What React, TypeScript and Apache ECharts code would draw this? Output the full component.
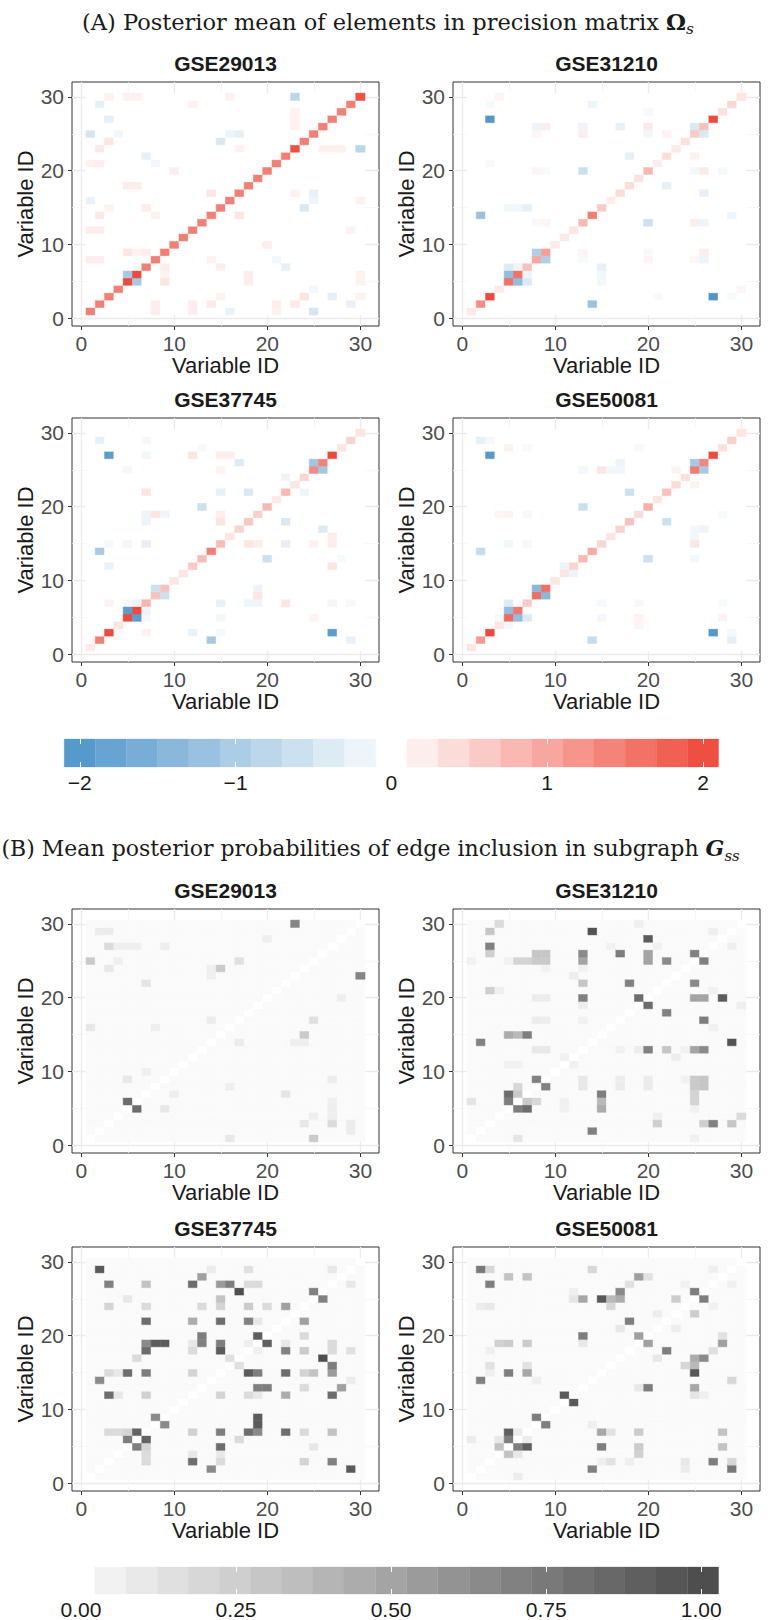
import React, { useEffect, useRef } from 'react';
import * as echarts from 'echarts';

// ---------------- data ----------------
const N_VARS = 30;
const AXIS_MIN = -1;
const AXIS_MAX = 32;
const MAJOR_TICKS = [0, 10, 20, 30];
const MINOR_TICKS = [5, 15, 25];
const DATASETS = ['GSE29013', 'GSE31210', 'GSE37745', 'GSE50081'];

// (A) posterior mean precision matrix: diagonal entries (variables 1..30)
const omegaDiag29013 = [1.45, 1.45, 1.45, 1.45, 2.05, 2.05, 1.45, 1.45, 1.45, 1.45, 1.45, 1.45, 1.45, 1.45, 1.45, 1.45, 1.45, 1.45, 1.45, 1.45, 1.45, 1.45, 2.0, 1.45, 1.45, 1.45, 1.45, 1.45, 1.45, 1.95];
const omegaDiag31210 = [0.25, 1.3, 2.05, 0.25, 1.6, 1.6, 0.7, 1.0, 1.1, 0.25, 0.25, 0.3, 0.8, 1.5, 0.6, 0.2, 0.4, 0.4, 0.35, 0.8, 0.2, 0.4, 0.25, 0.35, 0.6, 0.7, 2.05, 0.35, 0.45, 0.3];
const omegaDiag37745 = [0.25, 1.45, 2.05, 0.3, 2.05, 2.05, 0.85, 0.7, 0.7, 0.3, 0.3, 0.6, 0.75, 1.45, 0.75, 0.3, 0.5, 0.65, 0.55, 0.8, 0.25, 0.8, 0.3, 0.45, 1.3, 1.4, 2.05, 0.3, 0.5, 0.3];
const omegaDiag50081 = [0.3, 1.15, 2.05, 0.3, 1.7, 1.55, 0.6, 1.65, 1.65, 0.3, 0.3, 0.5, 0.8, 0.95, 0.45, 0.3, 0.5, 0.7, 0.4, 0.9, 0.3, 0.7, 0.4, 0.35, 1.5, 1.35, 2.05, 0.35, 0.55, 0.3];

// (A) off-diagonal entries [i, j, value] (i < j, matrix is symmetric)
const omegaOff29013 = [
  [5, 6, -1.05], [23, 30, -0.8], [1, 25, -0.5], [15, 24, -0.45], [1, 16, -0.25], [3, 27, -0.3], [7, 22, -0.3],
  [17, 25, -0.3], [2, 29, -0.3], [16, 25, -0.2], [4, 25, -0.15], [8, 21, -0.15],
  [3, 24, 0.3], [2, 23, 0.25], [14, 17, 0.3], [5, 9, 0.3], [3, 30, 0.15], [5, 30, 0.15], [6, 30, 0.15], [16, 30, 0.15],
  [1, 21, 0.15], [2, 21, 0.2], [5, 18, 0.2], [6, 18, 0.2], [17, 23, 0.15], [3, 15, 0.15], [7, 15, 0.2], [2, 14, 0.25],
  [8, 14, 0.15], [1, 12, 0.2], [2, 12, 0.2], [12, 29, 0.15], [10, 20, 0.2], [6, 9, 0.15], [7, 9, 0.2], [1, 8, 0.2],
  [2, 8, 0.2], [23, 26, 0.15], [23, 27, 0.15], [23, 28, 0.15],
];
const omegaOff31210 = [
  [3, 27, -2.05], [2, 14, -1.2], [5, 6, -1.3], [8, 9, -0.95], [13, 20, -0.6], [25, 26, -0.45], [5, 7, -0.4], [6, 7, -0.2],
  [7, 15, -0.3], [5, 15, -0.15], [6, 15, -0.15], [17, 26, -0.3], [18, 22, -0.3], [8, 26, -0.2], [9, 26, 0.2], [13, 26, -0.2],
  [13, 25, 0.2], [20, 26, 0.25], [20, 25, -0.15], [20, 28, -0.12], [14, 29, -0.2], [22, 25, 0.15], [3, 29, -0.1], [4, 30, 0.12],
  [3, 21, -0.1], [8, 20, 0.12], [9, 20, -0.1], [9, 13, 0.12], [8, 13, -0.1], [8, 25, 0.1],
];
const omegaOff37745 = [
  [3, 27, -1.95], [5, 6, -1.95], [2, 14, -1.05], [25, 26, -1.1], [8, 9, -0.6], [13, 20, -0.6], [2, 29, -0.3], [17, 26, -0.4],
  [18, 22, -0.45], [7, 22, 0.3], [12, 27, 0.3], [15, 27, 0.2], [16, 27, 0.2], [15, 19, 0.2], [15, 18, 0.3], [8, 19, 0.3],
  [9, 19, -0.2], [7, 19, -0.2], [7, 18, -0.2], [15, 22, -0.3], [7, 15, -0.3], [3, 12, -0.25], [5, 15, -0.15], [3, 15, -0.12],
  [3, 7, 0.15], [7, 27, -0.15], [6, 7, -0.2], [5, 7, -0.12], [22, 24, -0.2], [13, 28, -0.1], [7, 29, -0.12], [15, 25, 0.15],
  [5, 25, 0.12],
];
const omegaOff50081 = [
  [3, 27, -2.0], [5, 6, -1.3], [8, 9, -1.4], [25, 26, -1.05], [2, 14, -0.7], [13, 20, -0.6], [18, 22, -0.6], [5, 7, -0.4],
  [2, 29, -0.3], [15, 25, 0.3], [17, 26, -0.2], [16, 25, -0.15], [17, 25, -0.15], [13, 25, -0.15], [5, 15, -0.15], [7, 15, -0.12],
  [5, 28, 0.15], [5, 19, 0.15], [4, 19, 0.12], [7, 19, -0.12], [11, 12, -0.2], [3, 29, -0.12], [7, 28, -0.1], [23, 25, 0.15],
  [4, 5, -0.12], [19, 28, -0.1],
];

// (B) posterior probabilities of edge inclusion: background level and edges [i, j, p] (i < j, symmetric)
const PROB_BACKGROUND = 0.018;
const PROB_DIAGONAL = 0;
const probEdges29013 = [
  [23, 30, 0.68], [5, 6, 0.82], [1, 25, 0.28], [15, 24, 0.28], [3, 27, 0.18], [17, 25, 0.15], [7, 22, 0.12], [1, 16, 0.1],
  [5, 9, 0.1], [3, 24, 0.1], [2, 29, 0.08], [3, 29, 0.08], [14, 17, 0.08], [8, 16, 0.06], [7, 10, 0.06], [20, 28, 0.06],
  [4, 27, 0.06], [5, 27, 0.06], [6, 27, 0.06], [9, 27, 0.07], [14, 23, 0.06], [14, 24, 0.06], [4, 25, 0.06],
];
const probEdges31210 = [
  [4, 30, 0.18], [3, 29, 0.3], [14, 29, 0.97], [20, 28, 0.92], [3, 27, 0.7], [3, 26, 0.25], [8, 26, 0.3], [9, 26, 0.3],
  [13, 26, 0.65], [17, 26, 0.72], [20, 26, 0.5], [25, 26, 0.7], [6, 25, 0.22], [7, 25, 0.22], [8, 25, 0.28], [9, 25, 0.28],
  [13, 25, 0.5], [20, 25, 0.5], [22, 25, 0.65], [13, 22, 0.3], [18, 22, 0.7], [3, 21, 0.25], [13, 20, 0.7], [19, 20, 0.82],
  [8, 20, 0.08], [9, 20, 0.08], [2, 14, 0.7], [5, 15, 0.45], [6, 15, 0.38], [7, 15, 0.72], [8, 9, 0.7], [5, 7, 0.82],
  [6, 7, 0.28], [5, 6, 0.72], [6, 8, 0.2], [1, 6, 0.12], [12, 23, 0.07], [13, 17, 0.05], [8, 17, 0.08], [9, 17, 0.07],
  [8, 13, 0.1], [9, 13, 0.1], [13, 19, 0.07], [21, 27, 0.05], [27, 29, 0.06], [19, 30, 0.06], [16, 27, 0.05], [4, 21, 0.06],
  [5, 11, 0.05], [6, 11, 0.05], [11, 12, 0.05], [1, 25, 0.05], [5, 25, 0.05], [13, 24, 0.05], [9, 24, 0.05],
];
const probEdges37745 = [
  [2, 29, 0.93], [14, 29, 0.08], [18, 29, 0.15], [27, 29, 0.1], [13, 28, 0.52], [3, 27, 0.7], [7, 27, 0.32], [12, 27, 0.82],
  [15, 27, 0.55], [16, 27, 0.72], [18, 27, 0.18], [19, 27, 0.18], [17, 26, 1.0], [25, 26, 0.7], [5, 25, 0.1], [15, 25, 0.32],
  [3, 24, 0.22], [7, 24, 0.18], [13, 24, 0.18], [15, 24, 0.22], [18, 24, 0.27], [20, 24, 0.18], [22, 24, 0.52], [7, 22, 0.82],
  [12, 22, 0.45], [15, 22, 0.82], [18, 22, 0.7], [19, 22, 0.1], [13, 20, 0.72], [19, 20, 0.9], [7, 19, 0.65], [8, 19, 0.92],
  [9, 19, 0.92], [12, 19, 0.1], [13, 19, 0.7], [15, 19, 0.72], [18, 19, 0.06], [7, 18, 0.82], [12, 18, 0.18], [15, 18, 0.92],
  [6, 17, 0.18], [16, 17, 0.15], [3, 15, 0.18], [4, 15, 0.1], [5, 15, 0.82], [7, 15, 0.72], [12, 15, 0.22], [2, 14, 0.65],
  [3, 12, 0.82], [4, 12, 0.1], [7, 12, 0.24], [8, 9, 0.65], [3, 7, 0.18], [4, 7, 0.18], [5, 7, 0.22], [6, 7, 0.88], [5, 6, 0.72],
];
const probEdges50081 = [
  [2, 29, 0.75], [3, 29, 0.2], [14, 29, 0.2], [27, 29, 0.06], [5, 28, 0.32], [7, 28, 0.32], [19, 28, 0.52], [20, 28, 0.14],
  [3, 27, 0.72], [18, 27, 0.15], [17, 26, 0.65], [25, 26, 0.72], [12, 25, 0.12], [13, 25, 0.48], [15, 25, 0.95], [16, 25, 0.38],
  [17, 25, 0.45], [23, 25, 0.26], [2, 24, 0.08], [3, 24, 0.1], [16, 24, 0.2], [21, 23, 0.07], [18, 22, 0.72], [17, 21, 0.1],
  [13, 20, 0.72], [19, 20, 0.52], [4, 19, 0.24], [5, 19, 0.27], [7, 19, 0.27], [3, 16, 0.14], [7, 16, 0.14], [5, 15, 0.72],
  [7, 15, 0.48], [2, 14, 0.7], [8, 14, 0.06], [13, 19, 0.1], [11, 12, 0.93], [8, 9, 0.72], [5, 7, 0.9], [6, 7, 0.08],
  [1, 6, 0.08], [4, 6, 0.1], [5, 6, 0.72], [4, 5, 0.32], [12, 26, 0.06], [24, 27, 0.05], [3, 15, 0.06], [3, 18, 0.06],
];

// colour-bar bins [from, to, level]
const cbarABins = [
  [-2.1, -1.9, -2.0], [-1.9, -1.7, -1.8], [-1.7, -1.5, -1.6], [-1.5, -1.3, -1.4], [-1.3, -1.1, -1.2],
  [-1.1, -0.9, -1.0], [-0.9, -0.7, -0.8], [-0.7, -0.5, -0.6], [-0.5, -0.3, -0.4], [-0.3, -0.1, -0.2],
  [0.1, 0.3, 0.2], [0.3, 0.5, 0.4], [0.5, 0.7, 0.6], [0.7, 0.9, 0.8], [0.9, 1.1, 1.0],
  [1.1, 1.3, 1.2], [1.3, 1.5, 1.4], [1.5, 1.7, 1.6], [1.7, 1.9, 1.8], [1.9, 2.1, 2.0],
];
const cbarALabels = [-2, -1, 0, 1, 2];
const cbarBBins = [
  [0.022, 0.072, 0.047], [0.072, 0.123, 0.097], [0.123, 0.173, 0.148], [0.173, 0.223, 0.198], [0.223, 0.274, 0.248],
  [0.274, 0.324, 0.299], [0.324, 0.374, 0.349], [0.374, 0.424, 0.399], [0.424, 0.475, 0.45], [0.475, 0.525, 0.5],
  [0.525, 0.575, 0.55], [0.575, 0.626, 0.601], [0.626, 0.676, 0.651], [0.676, 0.726, 0.701], [0.726, 0.777, 0.751],
  [0.777, 0.827, 0.802], [0.827, 0.877, 0.852], [0.877, 0.927, 0.902], [0.927, 0.978, 0.953], [0.978, 1.028, 1.003],
];
const cbarBLabels = [0, 0.25, 0.5, 0.75, 1];

// ---------------- build ----------------
function buildOmega(diag: number[], off: number[][]) {
  const m: number[][] = [];
  for (let i = 0; i < N_VARS; i++) { m.push(new Array(N_VARS).fill(0)); }
  for (let i = 0; i < N_VARS; i++) m[i][i] = diag[i];
  off.forEach(([a, b, v]) => { m[a - 1][b - 1] = v; m[b - 1][a - 1] = v; });
  const out: number[][] = [];
  for (let i = 0; i < N_VARS; i++) for (let j = 0; j < N_VARS; j++) out.push([i + 1, j + 1, m[i][j]]);
  return out;
}
function buildProb(edges: number[][]) {
  const m: number[][] = [];
  for (let i = 0; i < N_VARS; i++) { m.push(new Array(N_VARS).fill(PROB_BACKGROUND)); }
  for (let i = 0; i < N_VARS; i++) m[i][i] = PROB_DIAGONAL;
  edges.forEach(([a, b, v]) => { m[a - 1][b - 1] = v; m[b - 1][a - 1] = v; });
  const out: number[][] = [];
  for (let i = 0; i < N_VARS; i++) for (let j = 0; j < N_VARS; j++) out.push([i + 1, j + 1, m[i][j]]);
  return out;
}

// grey ramp: white at 0, light grey at 0.05, then linear to dark grey at 1
function greyRamp() {
  const cols = ['#FFFFFF'];
  for (let k = 1; k <= 20; k++) {
    const g = Math.round(241 - (241 - 78) * (k - 1) / 19);
    const h = g.toString(16).padStart(2, '0');
    cols.push('#' + h + h + h);
  }
  return cols;
}

const SANS = '"Liberation Sans", Arial, Helvetica, sans-serif';
const SERIF = '"DejaVu Serif", "Liberation Serif", serif';
const PANEL_LEFTS = [72, 453];
const PANEL_W = 307;
const PANEL_H = 244;
const ROW_TOPS = [82, 418, 909, 1247];

function buildOption() {
  const matricesA = [
    buildOmega(omegaDiag29013, omegaOff29013), buildOmega(omegaDiag31210, omegaOff31210),
    buildOmega(omegaDiag37745, omegaOff37745), buildOmega(omegaDiag50081, omegaOff50081),
  ];
  const matricesB = [buildProb(probEdges29013), buildProb(probEdges31210), buildProb(probEdges37745), buildProb(probEdges50081)];

  const grids: any[] = [];
  const xAxes: any[] = [];
  const yAxes: any[] = [];
  const series: any[] = [];
  const graphics: any[] = [];

  const tileRender = (_p: any, api: any) => {
    const x = api.value(0);
    const y = api.value(1);
    const a = api.coord([x - 0.5, y + 0.5]);
    const b = api.coord([x + 0.5, y - 0.5]);
    const fill = api.visual('color');
    return {
      type: 'rect',
      shape: { x: a[0], y: a[1], width: b[0] - a[0], height: b[1] - a[1] },
      style: { fill, stroke: fill, lineWidth: 0.5 },
    };
  };
  const barRender = (_p: any, api: any) => {
    const a = api.coord([api.value(0), 1]);
    const b = api.coord([api.value(1), 0]);
    const fill = api.visual('color');
    return {
      type: 'rect',
      shape: { x: a[0], y: a[1], width: b[0] - a[0], height: b[1] - a[1] },
      style: { fill, stroke: fill, lineWidth: 0.3 },
    };
  };

  const mainAxis = (dim: 'x' | 'y', k: number) => ({
    type: 'value', gridIndex: k, min: AXIS_MIN, max: AXIS_MAX,
    position: dim === 'x' ? 'bottom' : 'left',
    axisLine: { show: false, onZero: false },
    axisTick: { show: true, length: 4, lineStyle: { color: '#333333', width: 1 }, customValues: MAJOR_TICKS },
    axisLabel: { show: true, customValues: MAJOR_TICKS, color: '#4D4D4D', fontSize: 21, fontFamily: SANS, margin: dim === 'x' ? 7 : 8 },
    splitLine: { show: true, lineStyle: { color: '#EBEBEB', width: 1.3 } },
    name: 'Variable ID', nameLocation: 'middle', nameGap: dim === 'x' ? 28 : 36, nameRotate: dim === 'x' ? 0 : 90,
    nameTextStyle: { fontSize: 22, color: '#1A1A1A', fontFamily: SANS },
  });
  const minorAxis = (dim: 'x' | 'y', k: number) => ({
    type: 'value', gridIndex: k, min: AXIS_MIN, max: AXIS_MAX,
    position: dim === 'x' ? 'bottom' : 'left',
    axisLine: { show: false, onZero: false },
    axisTick: { show: false, customValues: MINOR_TICKS },
    axisLabel: { show: false, customValues: MINOR_TICKS },
    splitLine: { show: true, lineStyle: { color: '#F5F5F5', width: 0.8 } },
  });

  const allMats = [...matricesA, ...matricesB];
  allMats.forEach((data, k) => {
    const col = k % 2;
    const row = Math.floor(k / 2);
    const left = PANEL_LEFTS[col];
    const top = ROW_TOPS[row];
    grids.push({ left, top, width: PANEL_W, height: PANEL_H, show: true, borderColor: '#333333', borderWidth: 1, backgroundColor: 'rgba(0,0,0,0)', containLabel: false, outerBoundsMode: 'none' });
    xAxes.push(mainAxis('x', k), minorAxis('x', k));
    yAxes.push(mainAxis('y', k), minorAxis('y', k));
    series.push({ type: 'custom', xAxisIndex: 2 * k, yAxisIndex: 2 * k, data, renderItem: tileRender, encode: { x: 0, y: 1 }, silent: true, z: 2 });
    graphics.push({
      type: 'text', x: left + PANEL_W / 2, y: top - 18.5,
      style: { text: DATASETS[k % 4], font: `bold 21px ${SANS}`, fill: '#1A1A1A', align: 'center', verticalAlign: 'middle', textAlign: 'center', textVerticalAlign: 'middle' },
    });
  });

  // colour bars
  const cbars = [
    { left: 64.2, top: 739, width: 654.4, height: 28, min: -2.1, max: 2.1, bins: cbarABins, labels: cbarALabels, marks: [-2, -1, 1, 2], fmt: (v: number) => (v < 0 ? '\u2212' + Math.abs(v) : String(v)) },
    { left: 81, top: 1567, width: 637.6, height: 27, min: 0, max: 1.028, bins: cbarBBins, labels: cbarBLabels, marks: [0.25, 0.5, 0.75, 1], fmt: (v: number) => v.toFixed(2) },
  ];
  cbars.forEach((c, ci) => {
    const gi = 8 + ci;
    grids.push({ left: c.left, top: c.top, width: c.width, height: c.height, show: false, containLabel: false, outerBoundsMode: 'none' });
    const xi = xAxes.length;
    xAxes.push({
      type: 'value', gridIndex: gi, min: c.min, max: c.max, position: 'bottom', z: 10,
      axisLine: { show: false, onZero: false },
      axisTick: { show: true, inside: true, length: 5, lineStyle: { color: '#FFFFFF', width: 1 }, customValues: c.marks },
      axisLabel: { show: true, customValues: c.labels, formatter: c.fmt, color: '#1A1A1A', fontSize: 21, fontFamily: SANS, margin: 5 },
      splitLine: { show: false },
    });
    xAxes.push({
      type: 'value', gridIndex: gi, min: c.min, max: c.max, position: 'top', z: 10,
      axisLine: { show: false, onZero: false },
      axisTick: { show: true, inside: true, length: 5, lineStyle: { color: '#FFFFFF', width: 1 }, customValues: c.marks },
      axisLabel: { show: false },
      splitLine: { show: false },
    });
    const yi = yAxes.length;
    yAxes.push({ type: 'value', gridIndex: gi, min: 0, max: 1, show: false, axisLine: { onZero: false } });
    series.push({ type: 'custom', xAxisIndex: xi, yAxisIndex: yi, data: c.bins, renderItem: barRender, encode: { x: [0, 1] }, silent: true, z: 2 });
  });

  // main titles
  graphics.push({
    type: 'text', x: 388, y: 22,
    style: {
      text: '{n|(A) Posterior mean of elements in precision matrix }{o|\u03A9}{s|s}',
      align: 'center', verticalAlign: 'middle', textAlign: 'center', textVerticalAlign: 'middle',
      rich: {
        n: { fontFamily: SERIF, fontSize: 22.5, fill: '#1A1A1A', lineHeight: 30 },
        o: { fontFamily: SERIF, fontSize: 22.5, fontWeight: 'bold', fill: '#1A1A1A', lineHeight: 30 },
        s: { fontFamily: SERIF, fontSize: 15.5, fontStyle: 'italic', fill: '#1A1A1A', lineHeight: 16, verticalAlign: 'bottom' },
      },
    },
  });
  graphics.push({
    type: 'text', x: 1.5, y: 848,
    style: {
      text: '{n|(B) Mean posterior probabilities of edge inclusion in subgraph }{g|G}{s|ss}',
      align: 'left', verticalAlign: 'middle', textAlign: 'left', textVerticalAlign: 'middle',
      rich: {
        n: { fontFamily: SERIF, fontSize: 22, fill: '#1A1A1A', lineHeight: 30 },
        g: { fontFamily: SERIF, fontSize: 22, fontWeight: 'bold', fontStyle: 'italic', fill: '#1A1A1A', lineHeight: 30 },
        s: { fontFamily: SERIF, fontSize: 15, fontStyle: 'italic', fill: '#1A1A1A', lineHeight: 15, verticalAlign: 'bottom' },
      },
    },
  });

  return {
    animation: false,
    backgroundColor: '#FFFFFF',
    textStyle: { fontFamily: SANS },
    grid: grids,
    xAxis: xAxes,
    yAxis: yAxes,
    visualMap: [
      { type: 'continuous', show: false, min: -2.1, max: 2.1, dimension: 2, seriesIndex: [0, 1, 2, 3, 8], inRange: { color: ['#4E95C9', '#FFFFFF', '#EE4636'] } },
      { type: 'continuous', show: false, min: 0, max: 1, dimension: 2, seriesIndex: [4, 5, 6, 7, 9], inRange: { color: greyRamp() } },
    ],
    series,
    graphic: graphics,
  };
}

export default function App() {
  const ref = useRef<HTMLDivElement>(null);
  useEffect(() => {
    document.body.style.margin = '0';
    const chart = echarts.init(ref.current as HTMLDivElement, null, { renderer: 'svg' });
    chart.setOption(buildOption() as any);
    return () => chart.dispose();
  }, []);
  return <div ref={ref} style={{ width: 768, height: 1620, position: 'absolute', left: 0, top: 0 }} />;
}
